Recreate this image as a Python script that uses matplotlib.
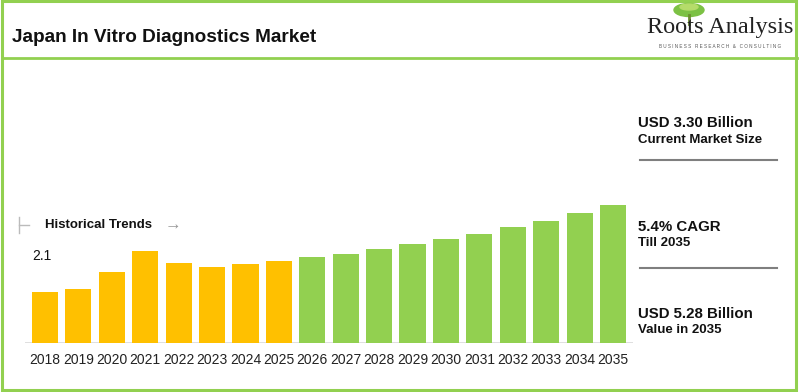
import matplotlib.pyplot as plt
from matplotlib.patches import Rectangle, Ellipse
from matplotlib.lines import Line2D

W, H = 800, 392

YEARS = [str(y) for y in range(2018, 2036)]
VALUES = [2.10, 2.21, 2.83, 3.60, 3.16, 3.01, 3.12, 3.23,
          3.38, 3.49, 3.67, 3.85, 4.04, 4.22, 4.48, 4.69, 4.99, 5.28]
N_HIST = 8  # 2018-2025 historical

YELLOW = "#FFC000"
GREEN = "#92D050"
TEXT = "#111111"
GREY = "#7f7f7f"

plt.rcParams["font.family"] = ["Liberation Sans", "DejaVu Sans"]

fig = plt.figure(figsize=(W / 100, H / 100), dpi=100)
fig.patch.set_facecolor("white")


def fx(x):
    return x / W


def fy(y):
    return 1 - y / H


# bar axes (pixel box: x 25..633, y 190..343)
ax = fig.add_axes([fx(25), fy(343), fx(633 - 25), (343 - 190) / H])
colors = [YELLOW] * N_HIST + [GREEN] * (len(YEARS) - N_HIST)
ax.bar(range(len(YEARS)), VALUES, width=0.78, color=colors, zorder=2)
ax.set_xlim(-0.6, len(YEARS) - 0.4)
ax.set_ylim(0.236, 5.83)
ax.set_xticks(range(len(YEARS)))
ax.set_xticklabels(YEARS, fontsize=10, color="#222222")
ax.tick_params(length=0, pad=7)
ax.set_yticks([])
for s in ax.spines.values():
    s.set_visible(False)
ax.axhline(0.236, color="#d9d9d9", linewidth=1.2, zorder=1)
ax.annotate(f"{VALUES[0]:.1f}", (0, VALUES[0]), xytext=(-2, 26),
            textcoords="offset points", fontsize=10, color=TEXT,
            ha="center", va="center")

# header
fig.text(fx(12), fy(37), "Japan In Vitro Diagnostics Market", fontsize=13.7,
         fontweight="bold", color=TEXT, va="center")
fig.add_artist(Line2D([fx(2), fx(797)], [fy(58), fy(58)], color=GREEN,
                      linewidth=2, transform=fig.transFigure))
fig.add_artist(Rectangle((fx(2), fy(390)), fx(794), (390 - 1) / H,
                         fill=False, edgecolor=GREEN, linewidth=2.2,
                         transform=fig.transFigure))

# logo
fig.add_artist(Ellipse((fx(689), fy(10)), fx(30), 13 / H, color="#7cc144",
                       transform=fig.transFigure))
fig.add_artist(Ellipse((fx(689), fy(7)), fx(18), 6 / H, color="#b5dc6a",
                       transform=fig.transFigure))
fig.add_artist(Line2D([fx(689), fx(689)], [fy(15), fy(24)], color="#6b8e2f",
                      linewidth=2, transform=fig.transFigure))
fig.text(fx(720), fy(28), "Roots Analysis", fontsize=17.5,
         family=["Liberation Serif", "DejaVu Serif"], color="#222222",
         ha="center", va="center")
fig.text(fx(720), fy(47), "B U S I N E S S   R E S E A R C H   &   C O N S U L T I N G",
         fontsize=3.3, color="#555555", ha="center", va="center")

# historical trends marker
fig.add_artist(Line2D([fx(19), fx(19)], [fy(217), fy(233)], color="#bbbbbb",
                      linewidth=1, transform=fig.transFigure))
fig.add_artist(Line2D([fx(19), fx(29)], [fy(225), fy(225)], color="#bbbbbb",
                      linewidth=1, transform=fig.transFigure))
fig.text(fx(45), fy(225), "Historical Trends", fontsize=9.5, fontweight="bold",
         color=TEXT, va="center")
fig.text(fx(165), fy(225), "\u2192", fontsize=12, color="#999999", va="center")

# right panel
panel = [
    (123, "USD 3.30 Billion", 140, "Current Market Size", 160),
    (227, "5.4% CAGR", 243, "Till 2035", 268),
    (314, "USD 5.28 Billion", 330, "Value in 2035", None),
]
for y1, t1, y2, t2, yl in panel:
    fig.text(fx(638), fy(y1), t1, fontsize=10.8, fontweight="bold",
             color=TEXT, va="center")
    fig.text(fx(638), fy(y2), t2, fontsize=9.5, fontweight="bold",
             color=TEXT, va="center")
    if yl is not None:
        fig.add_artist(Line2D([fx(640), fx(777)], [fy(yl), fy(yl)],
                              color=GREY, linewidth=1.5,
                              transform=fig.transFigure))

fig.savefig("out.png", dpi=100, facecolor="white")
